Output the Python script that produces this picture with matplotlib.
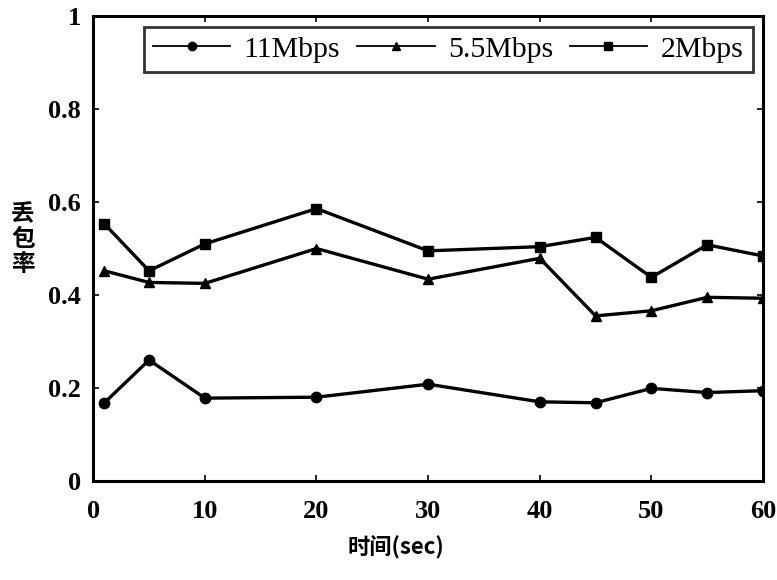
import matplotlib.pyplot as plt
from matplotlib.lines import Line2D

# 时间 (sec)
t = [1, 5, 10, 20, 30, 40, 45, 50, 55, 60]
# 丢包率
loss_11 = [0.168, 0.260, 0.178, 0.180, 0.208, 0.170, 0.168, 0.199, 0.190, 0.194]
loss_55 = [0.452, 0.427, 0.425, 0.500, 0.434, 0.479, 0.355, 0.366, 0.395, 0.393]
loss_2 = [0.553, 0.452, 0.510, 0.586, 0.495, 0.504, 0.524, 0.438, 0.508, 0.484]

labels = ["11Mbps", "5.5Mbps", "2Mbps"]
markers = ["o", "^", "s"]

serif = ["Liberation Serif", "DejaVu Serif"]
cjk = ["Noto Sans CJK SC", "DejaVu Sans"]

fig = plt.figure(figsize=(7.77, 5.8), dpi=100)
ax = fig.add_axes([0.12, 0.171, 0.862, 0.801])

for y, m in zip([loss_11, loss_55, loss_2], markers):
    ax.plot(t, y, color="black", lw=2.4, marker=m, ms=7.5)

ax.set_xlim(0, 60)
ax.set_ylim(0, 1)
ax.set_xticks([0, 10, 20, 30, 40, 50, 60])
ax.set_yticks([0, 0.2, 0.4, 0.6, 0.8, 1])
ax.set_yticklabels(["0", "0.2", "0.4", "0.6", "0.8", "1"])
ax.tick_params(direction="in", top=True, right=True, length=4, width=1.2)
ax.tick_params(axis="x", pad=14)
ax.tick_params(axis="y", pad=9)
for lab in ax.get_xticklabels() + ax.get_yticklabels():
    lab.set_fontfamily(serif)
    lab.set_fontweight("bold")
    lab.set_fontsize(19)
for sp in ax.spines.values():
    sp.set_linewidth(2.2)

handles = [Line2D([], [], color="black", lw=1.3, marker=m, ms=6) for m in markers]
leg = ax.legend(handles, labels, loc="upper right", ncol=3, frameon=True,
                fancybox=False, edgecolor="black", handlelength=2.6,
                columnspacing=0.55, handletextpad=0.45, borderaxespad=0.35,
                borderpad=0.3, prop={"family": serif, "size": 21.5})
leg.get_frame().set_linewidth(2.0)

ax.text(-0.105, 0.52, "丢\n包\n率", transform=ax.transAxes, ha="center", va="center",
        fontsize=17, fontweight="bold", family=cjk, linespacing=1.05)
fig.text(0.51, 0.055, "时间(sec)", ha="center", va="center", fontsize=16,
         fontweight="bold", family=cjk)

fig.savefig("out.png", dpi=100)
